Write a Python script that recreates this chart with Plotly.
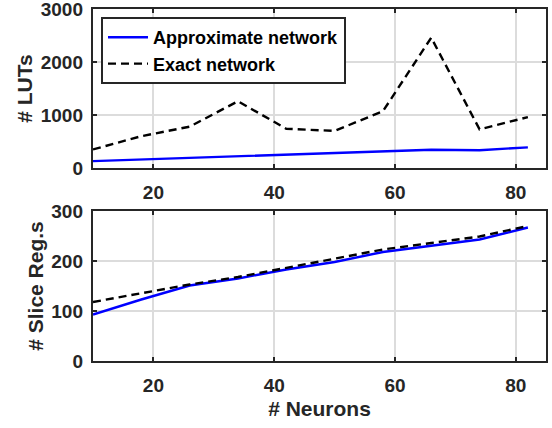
import plotly.graph_objects as go

neurons = [10, 18, 26, 34, 42, 50, 58, 66, 74, 82]
luts_approx = [130, 160, 195, 230, 255, 280, 315, 345, 335, 390]
luts_exact = [350, 600, 780, 1260, 740, 700, 1070, 2460, 730, 960]
regs_approx = [93, 123, 151, 165, 183, 198, 218, 230, 243, 267]
regs_exact = [118, 136, 153, 168, 186, 205, 223, 236, 249, 270]

x_ticks = [20, 40, 60, 80]
luts_ticks = [0, 1000, 2000, 3000]
regs_ticks = [0, 100, 200, 300]

FONT = "Liberation Sans"
BLUE = "#0000ff"
AX = "#262626"
TICK = 19
TITLE = 21

fig = go.Figure()
fig.add_trace(go.Scatter(x=neurons, y=luts_approx, mode="lines", name="<b>Approximate network</b>",
                         line=dict(color=BLUE, width=2.4), xaxis="x", yaxis="y"))
fig.add_trace(go.Scatter(x=neurons, y=luts_exact, mode="lines", name="<b>Exact network</b>",
                         line=dict(color="black", width=2.4, dash="8px,5px"), xaxis="x", yaxis="y"))
fig.add_trace(go.Scatter(x=neurons, y=regs_approx, mode="lines", showlegend=False,
                         line=dict(color=BLUE, width=2.4), xaxis="x2", yaxis="y2"))
fig.add_trace(go.Scatter(x=neurons, y=regs_exact, mode="lines", showlegend=False,
                         line=dict(color="black", width=2.4, dash="8px,5px"), xaxis="x2", yaxis="y2"))

W, H = 552, 428
xd = [93 / W, 546 / W]
common_x = dict(range=[10, 85], tickvals=x_ticks, ticktext=[f"<b>{v}</b>" for v in x_ticks],
                showgrid=True, gridcolor="#dcdcdc", gridwidth=1.5,
                showline=True, linecolor=AX, linewidth=2.4, mirror="ticks",
                ticks="inside", ticklen=4, tickcolor=AX, tickwidth=1.5,
                tickfont=dict(family=FONT, size=TICK, color=AX), zeroline=False, domain=xd,
                automargin=False, ticklabelstandoff=6, ticklabeloverflow="allow")
common_y = dict(showgrid=True, gridcolor="#dcdcdc", gridwidth=1.5,
                showline=True, linecolor=AX, linewidth=2.4, mirror="ticks",
                ticks="inside", ticklen=4, tickcolor=AX, tickwidth=1.5,
                tickfont=dict(family=FONT, size=TICK, color=AX), zeroline=False,
                automargin=False, ticklabelstandoff=4, ticklabeloverflow="allow")

fig.update_layout(
    template="none",
    width=W, height=H,
    margin=dict(l=0, r=0, t=0, b=0),
    paper_bgcolor="white", plot_bgcolor="white",
    font=dict(family=FONT, color=AX),
    xaxis=dict(**common_x, anchor="y"),
    yaxis=dict(**common_y, range=[0, 3000], tickvals=luts_ticks,
               ticktext=[f"<b>{v}</b>" for v in luts_ticks],
               domain=[1 - 168 / H, 1 - 9 / H], anchor="x",
               title=dict(text="<b># LUTs</b>", font=dict(family=FONT, size=TITLE, color=AX), standoff=2)),
    xaxis2=dict(**common_x, anchor="y2",
                title=dict(text="<b># Neurons</b>", font=dict(family=FONT, size=TITLE, color=AX), standoff=6)),
    yaxis2=dict(**common_y, range=[0, 300], tickvals=regs_ticks,
                ticktext=[f"<b>{v}</b>" for v in regs_ticks],
                domain=[1 - 361 / H, 1 - 211 / H], anchor="x2",
                title=dict(text="<b># Slice Reg.s</b>", font=dict(family=FONT, size=TITLE, color=AX), standoff=2)),
    legend=dict(x=101 / W, y=1 - 17 / H, xanchor="left", yanchor="top",
                bgcolor="white", bordercolor=AX, borderwidth=2,
                font=dict(family=FONT, size=18, color="black"),
                tracegroupgap=0, itemwidth=40),
    showlegend=True,
)

fig.write_html("out.html", config={"displayModeBar": False},
               post_script="document.body.style.margin='0px';document.body.style.overflow='hidden';")
